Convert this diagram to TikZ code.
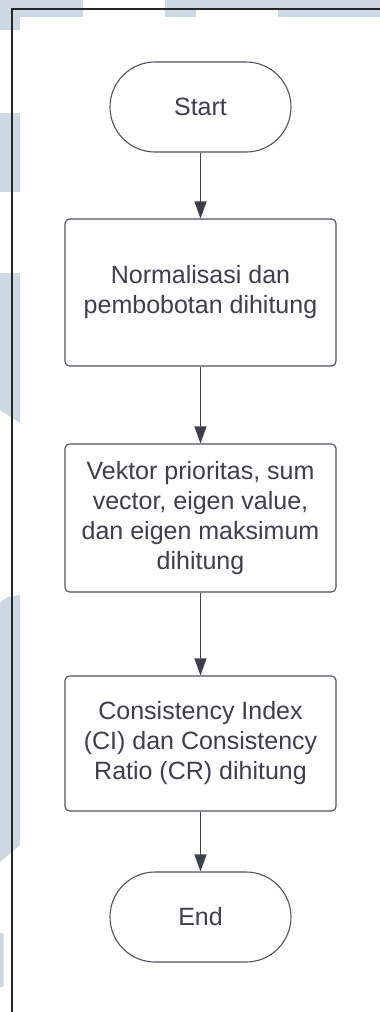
\documentclass[tikz,border=0pt]{standalone}
\usepackage{fontspec}
\setmainfont{Liberation Sans}
\usetikzlibrary{arrows.meta}
\definecolor{wmark}{HTML}{CCD8E3}
\definecolor{ink}{HTML}{3B4049}
\definecolor{edge}{HTML}{4E535B}
\tikzset{
  terminal/.style={draw=edge, line width=1.1pt, fill=white, rounded corners=45pt,
    minimum width=181pt, minimum height=90pt, inner sep=0pt, text=ink,
    font=\fontsize{25pt}{30pt}\selectfont},
  process/.style={draw=edge, line width=1.1pt, fill=white, rounded corners=4.5pt,
    minimum width=271pt, inner sep=0pt, align=center, text=ink,
    font=\fontsize{25pt}{30pt}\selectfont},
  flow/.style={draw=ink, line width=1.1pt, -{Triangle[length=17pt,width=12pt]}},
  frameline/.style={draw=black!85, line width=1.3pt}
}
\begin{document}
\begin{tikzpicture}[x=1pt,y=-1pt]
\useasboundingbox (0,0) rectangle (380,1012);
% watermark blocks round the page
\fill[wmark] (0,0) rectangle (83,17);
\fill[wmark] (165,0) rectangle (380,9);
\fill[wmark] (165,9) rectangle (196,17);
\fill[wmark] (278,9) rectangle (380,17);
\fill[wmark] (0,0) rectangle (20,30);
\fill[wmark] (0,113) rectangle (20,192);
\fill[wmark] (0,273) -- (20,273) -- (20,423) -- (0,410) -- cycle;
\fill[wmark] (0,603) .. controls (6,597) .. (20,595) -- (20,845) -- (0,862) -- cycle;
\fill[wmark, rounded corners=2pt] (-4,933) rectangle (3.5,987);
% page
\fill[white] (20,17) rectangle (380,1012);
\draw[frameline] (12,1012) -- (12,9) -- (380,9);
% flowchart
\node[terminal] (start) at (200.5,107) {Start};
\node[process, minimum height=147pt] (norm) at (200.5,292.5)
  {Normalisasi dan\\pembobotan dihitung};
\node[process, minimum height=148pt] (eigen) at (200.5,518)
  {Vektor prioritas, sum\\vector, eigen value,\\dan eigen maksimum\\dihitung};
\node[process, minimum height=135pt] (cons) at (200.5,743.5)
  {Consistency Index\\(CI) dan Consistency\\Ratio (CR) dihitung};
\node[terminal] (end) at (200.5,917) {End};
\draw[flow] (start) -- (norm);
\draw[flow] (norm) -- (eigen);
\draw[flow] (eigen) -- (cons);
\draw[flow] (cons) -- (end);
\end{tikzpicture}
\end{document}
